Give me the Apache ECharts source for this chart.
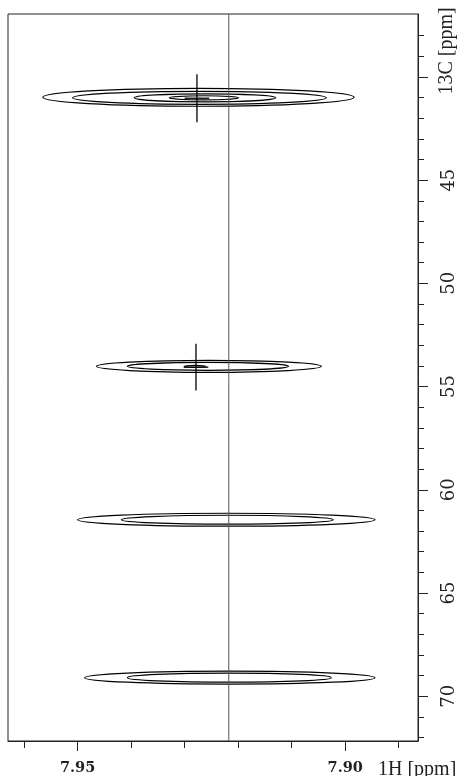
<!DOCTYPE html>
<html>
<head>
<meta charset="utf-8">
<script src="https://cdn.jsdelivr.net/npm/echarts@6/dist/echarts.min.js"></script>
<style>
html,body{margin:0;padding:0;background:#fff;}
#chart{width:458px;height:776px;}
</style>
</head>
<body>
<div id="chart"></div>
<script>
// ---- axis ranges (ppm) ----
const xRange = [7.8864, 7.9630];   // 1H, drawn reversed
const yRange = [36.95, 72.17];     // 13C, drawn top-down

// ---- tick values ----
const xMajorTicks = [7.95, 7.90];
const xMinorTicks = [7.96, 7.94, 7.93, 7.92, 7.91, 7.89];
const xTickLabels = [7.95, 7.90];
const yMajorTicks = [40, 45, 50, 55, 60, 65, 70];
const yMinorTicks = [38, 39, 41, 42, 43, 44, 46, 47, 48, 49, 51, 52, 53, 54, 56, 57, 58, 59, 61, 62, 63, 64, 66, 67, 68, 69, 71, 72];
const yTickLabels = [45, 50, 55, 60, 65, 70];

// ---- contour levels: [1H centre, 13C centre, 1H half-width, 13C half-height] ----
const peak1Contours = [
  [7.92742, 40.985, 0.02909, 0.434],
  [7.92723, 41.010, 0.02370, 0.314],
  [7.92621, 41.010, 0.01320, 0.193],
  [7.92640, 41.010, 0.00650, 0.100]
];
const peak2Contours = [
  [7.92546, 54.02, 0.02100, 0.290],
  [7.92565, 54.02, 0.01506, 0.190],
  [7.92807, 54.02, 0.00200, 0.050]
];
const peak3Contours = [
  [7.92221, 61.45, 0.02779, 0.314],
  [7.92203, 61.45, 0.01980, 0.217]
];
const peak4Contours = [
  [7.92156, 69.10, 0.02714, 0.314],
  [7.92165, 69.10, 0.01905, 0.217]
];

// ---- picked peaks (cross markers): [1H, 13C, 1H half-arm, 13C half-arm] ----
const peakCrosses = [
  [7.92770, 41.03, 0.0023, 1.16],
  [7.92788, 54.06, 0.0023, 1.13]
];

// ---- reference cursor line (1H ppm) ----
const cursorLine = 7.92175;

const allContours = [].concat(peak1Contours, peak2Contours, peak3Contours, peak4Contours);

const chart = echarts.init(document.getElementById('chart'), null, {renderer: 'canvas'});

function ellipseItem(params, api) {
  const c = api.coord([api.value(0), api.value(1)]);
  const e = api.coord([api.value(0) + api.value(2), api.value(1) + api.value(3)]);
  return {
    type: 'ellipse',
    shape: {cx: c[0], cy: c[1], rx: Math.abs(e[0] - c[0]), ry: Math.abs(e[1] - c[1])},
    style: {fill: 'none', stroke: '#000', lineWidth: 1.2}
  };
}

function crossItem(params, api) {
  const x = api.value(0), y = api.value(1), dx = api.value(2), dy = api.value(3);
  const l = api.coord([x + dx, y]), r = api.coord([x - dx, y]);
  const t = api.coord([x, y - dy]), b = api.coord([x, y + dy]);
  return {
    type: 'group',
    children: [
      {type: 'line', shape: {x1: l[0], y1: l[1], x2: r[0], y2: r[1]}, style: {stroke: '#000', lineWidth: 1.3}},
      {type: 'line', shape: {x1: t[0], y1: t[1], x2: b[0], y2: b[1]}, style: {stroke: '#000', lineWidth: 1.3}}
    ]
  };
}

const serifDigits = 'DejaVu Serif';
const unitFont = 'Liberation Serif';

const option = {
  animation: false,
  backgroundColor: '#fff',
  grid: {left: 8, right: 38, top: 14, bottom: 33, show: true, borderColor: '#222', borderWidth: 1, backgroundColor: '#fff'},
  xAxis: [
    {
      type: 'value', min: xRange[0], max: xRange[1], inverse: true, position: 'bottom',
      axisLine: {show: true, lineStyle: {color: '#222', width: 1}},
      axisTick: {show: true, length: 10, inside: false, customValues: xMajorTicks, lineStyle: {color: '#222'}},
      axisLabel: {show: true, customValues: xTickLabels, margin: 20, formatter: v => v.toFixed(2),
        fontFamily: serifDigits, fontWeight: 'bold', fontSize: 14.5, color: '#222'},
      splitLine: {show: false}
    },
    {
      type: 'value', min: xRange[0], max: xRange[1], inverse: true, position: 'bottom',
      axisLine: {show: false},
      axisTick: {show: true, length: 7, inside: false, customValues: xMinorTicks, lineStyle: {color: '#222'}},
      axisLabel: {show: false},
      splitLine: {show: false}
    }
  ],
  yAxis: [
    {
      type: 'value', min: yRange[0], max: yRange[1], inverse: true, position: 'right',
      axisLine: {show: true, lineStyle: {color: '#222', width: 1}},
      axisTick: {show: true, length: 10, inside: false, customValues: yMajorTicks, lineStyle: {color: '#222'}},
      axisLabel: {show: true, customValues: yTickLabels, margin: 22, rotate: 90,
        fontFamily: serifDigits, fontSize: 18, color: '#222'},
      splitLine: {show: false}
    },
    {
      type: 'value', min: yRange[0], max: yRange[1], inverse: true, position: 'right',
      axisLine: {show: false},
      axisTick: {show: true, length: 6, inside: false, customValues: yMinorTicks, lineStyle: {color: '#222'}},
      axisLabel: {show: false},
      splitLine: {show: false}
    }
  ],
  graphic: [
    {type: 'text', x: 447, y: 51, rotation: Math.PI / 2,
      style: {text: '13C [ppm]', fontFamily: unitFont, fontSize: 20, fill: '#222', textAlign: 'center', textVerticalAlign: 'middle'}},
    {type: 'text', x: 378, y: 769.5,
      style: {text: '1H [ppm]', fontFamily: unitFont, fontSize: 20, fill: '#222', textAlign: 'left', textVerticalAlign: 'middle'}}
  ],
  series: [
    {
      type: 'line', xAxisIndex: 0, yAxisIndex: 0, showSymbol: false, silent: true,
      data: [[cursorLine, yRange[0]], [cursorLine, yRange[1]]],
      lineStyle: {color: '#555', width: 1}
    },
    {
      type: 'custom', xAxisIndex: 0, yAxisIndex: 0, clip: true, silent: true,
      encode: {x: 0, y: 1},
      data: allContours,
      renderItem: ellipseItem
    },
    {
      type: 'custom', xAxisIndex: 0, yAxisIndex: 0, clip: true, silent: true,
      encode: {x: 0, y: 1},
      data: peakCrosses,
      renderItem: crossItem
    }
  ]
};
chart.setOption(option);
</script>
</body>
</html>
